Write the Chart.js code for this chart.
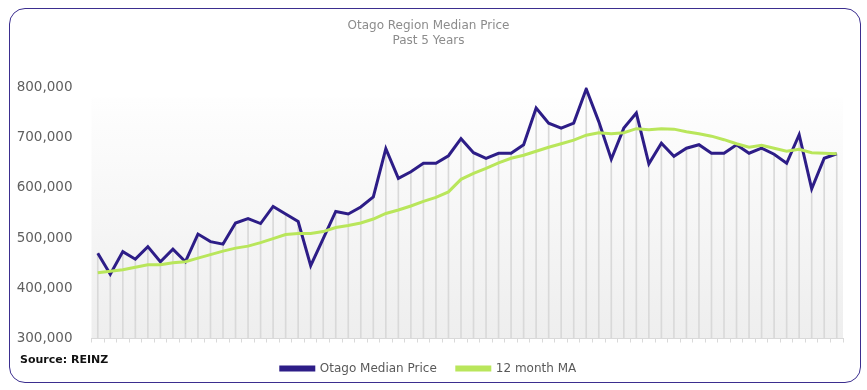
<!DOCTYPE html>
<html>
<head>
<meta charset="utf-8">
<script src="https://cdn.jsdelivr.net/npm/chart.js@4/dist/chart.umd.min.js"></script>
<style>
  html, body { margin: 0; padding: 0; background: #fff; }
  #frame {
    position: absolute; left: 9px; top: 8px; width: 850px; height: 373px;
    border: 1.5px solid #3b2e8f; border-radius: 16px;
  }
  #wrap { position: absolute; left: 0; top: 0; width: 867px; height: 390px; }
  #source {
    position: absolute; left: 20px; top: 353px;
    font: bold 11px "DejaVu Sans", sans-serif; color: #111;
  }
</style>
</head>
<body>
<div id="frame"></div>
<div id="wrap"><canvas id="chart"></canvas></div>
<div id="source">Source: REINZ</div>
<script>
// months shown on the x axis (labels are not printed, one tick per month)
var months = [
  'Jul-19','Aug-19','Sep-19','Oct-19','Nov-19','Dec-19','Jan-20','Feb-20','Mar-20','Apr-20','May-20','Jun-20',
  'Jul-20','Aug-20','Sep-20','Oct-20','Nov-20','Dec-20','Jan-21','Feb-21','Mar-21','Apr-21','May-21','Jun-21',
  'Jul-21','Aug-21','Sep-21','Oct-21','Nov-21','Dec-21','Jan-22','Feb-22','Mar-22','Apr-22','May-22','Jun-22',
  'Jul-22','Aug-22','Sep-22','Oct-22','Nov-22','Dec-22','Jan-23','Feb-23','Mar-23','Apr-23','May-23','Jun-23',
  'Jul-23','Aug-23','Sep-23','Oct-23','Nov-23','Dec-23','Jan-24','Feb-24','Mar-24','Apr-24','May-24','Jun-24'
];

var medianPrice = [
  470000, 428000, 473000, 458000, 483000, 453000, 478000, 453000, 508000, 493000,
  488000, 530000, 539000, 529000, 563000, 548000, 533000, 445000, 499000, 553000,
  548000, 562000, 582000, 678000, 619000, 632000, 649000, 649000, 664000, 698000,
  670000, 659000, 669000, 669000, 686000, 759000, 729000, 719000, 729000, 797000,
  732000, 657000, 719000, 749000, 648000, 689000, 663000, 679000, 686000, 669000,
  669000, 686000, 669000, 679000, 667000, 649000, 706000, 598000, 659000, 668000
];

var movingAvg = [
  431000, 434000, 437000, 442000, 447000, 447000, 451000, 453000, 460000, 467000,
  474000, 480000, 484000, 491000, 499000, 507000, 509000, 509000, 513000, 521000,
  525000, 530000, 538000, 549000, 556000, 564000, 573000, 581000, 592000, 617000,
  629000, 639000, 650000, 659000, 665000, 673000, 681000, 688000, 695000, 705000,
  710000, 708000, 710000, 718000, 716000, 718000, 717000, 712000, 708000, 703000,
  696000, 688000, 681000, 685000, 679000, 673000, 677000, 670000, 669000, 668000
];

var yTicks = [300000, 400000, 500000, 600000, 700000, 800000];

// soft grey gradient behind the plot area
var plotBackground = {
    id: 'plotBackground',
    beforeDraw: function(chart) {
        var a = chart.chartArea;
        var ctx = chart.ctx;
        var g = ctx.createLinearGradient(0, a.top, 0, a.bottom);
        g.addColorStop(0, '#ffffff');
        g.addColorStop(0.1, '#fdfdfd');
        g.addColorStop(1, '#eeeeee');
        ctx.save();
        ctx.fillStyle = g;
        ctx.fillRect(a.left, a.top + 10, a.right - a.left, a.bottom - a.top - 10);
        ctx.restore();
    }
};

Chart.defaults.font.family = '"DejaVu Sans", sans-serif';

new Chart(document.getElementById('chart'), {
    type: 'line',
    data: {
        labels: months,
        datasets: [
            {
                label: 'Otago Median Price',
                data: medianPrice,
                borderColor: '#2d1d87',
                backgroundColor: '#2d1d87',
                borderWidth: 3,
                pointRadius: 0,
                tension: 0,
                order: 2
            },
            {
                label: '12 month MA',
                data: movingAvg,
                borderColor: '#b9e65b',
                backgroundColor: '#b9e65b',
                borderWidth: 3,
                pointRadius: 0,
                tension: 0,
                order: 1
            },
            {
                // drop lines under each median point
                type: 'bar',
                label: 'drop',
                data: medianPrice,
                backgroundColor: '#d9d9d9',
                barThickness: 1,
                order: 3
            }
        ]
    },
    options: {
        responsive: true,
        maintainAspectRatio: false,
        animation: false,
        layout: { padding: { left: 14, right: 24, top: 0, bottom: 5.5 } },
        plugins: {
            tooltip: { enabled: false },
            title: {
                display: true,
                text: ['Otago Region Median Price', 'Past 5 Years'],
                color: '#8c8c8c',
                font: { size: 12, weight: 'normal', lineHeight: 1.27 },
                padding: { top: 18, bottom: 39 }
            },
            legend: {
                position: 'bottom',
                labels: {
                    color: '#595959',
                    font: { size: 12 },
                    boxWidth: 33,
                    boxHeight: 3,
                    padding: 20,
                    filter: function(item) { return item.datasetIndex !== 2; },
                    sort: function(a, b) { return a.datasetIndex - b.datasetIndex; }
                }
            }
        },
        scales: {
            x: {
                offset: true,
                grid: {
                    display: true,
                    drawOnChartArea: false,
                    offset: true,
                    tickLength: 4,
                    color: '#d9d9d9'
                },
                border: { display: true, color: '#d9d9d9' },
                ticks: { display: false }
            },
            y: {
                min: yTicks[0],
                max: yTicks[yTicks.length - 1],
                afterBuildTicks: function(scale) {
                    scale.ticks = yTicks.map(function(v) { return { value: v }; });
                },
                afterFit: function(scale) { scale.width = 77.5; },
                grid: { display: false },
                border: { display: false },
                ticks: {
                    color: '#5f5f5f',
                    font: { size: 13.5 },
                    padding: 11,
                    callback: function(v) { return v.toLocaleString('en-US'); }
                }
            }
        }
    },
    plugins: [plotBackground]
});
</script>
</body>
</html>
